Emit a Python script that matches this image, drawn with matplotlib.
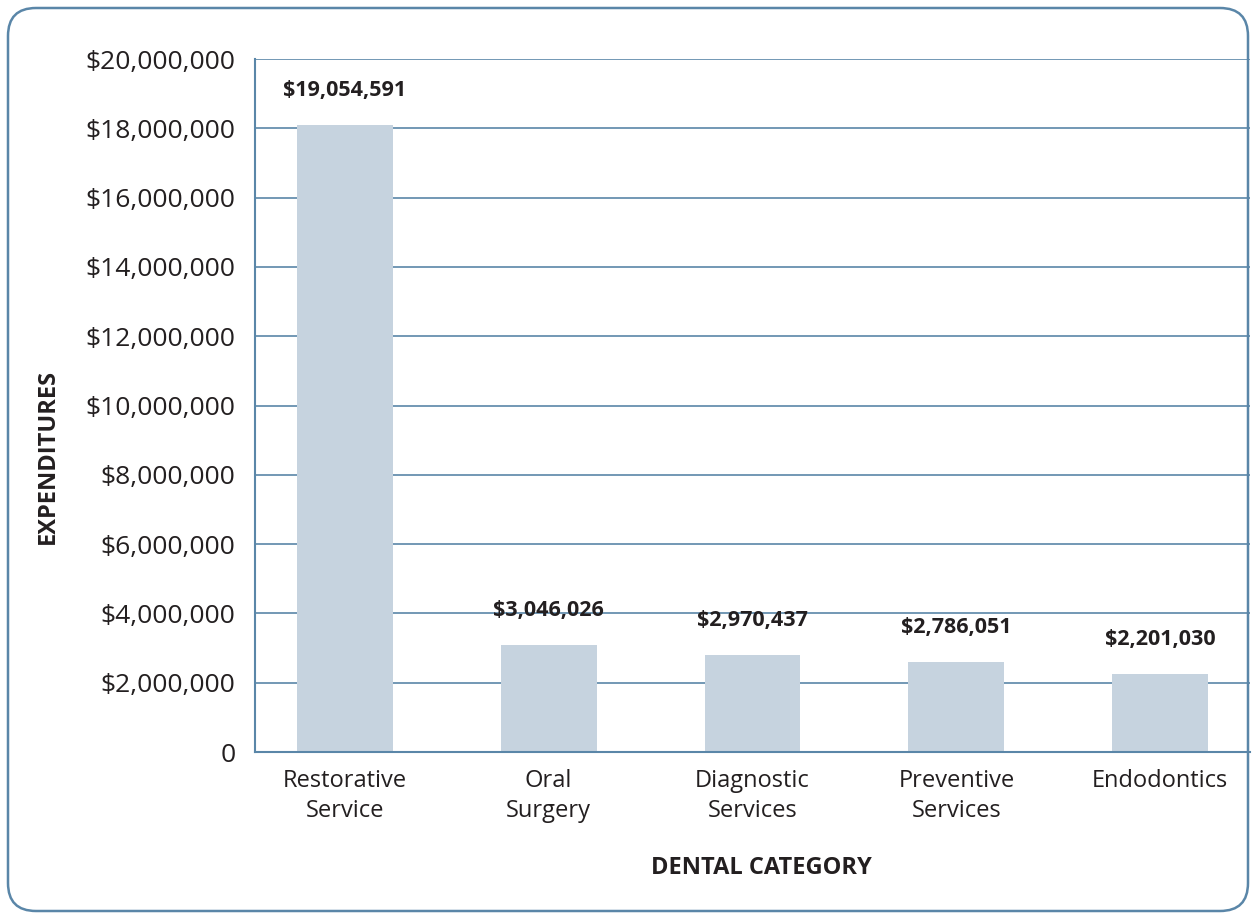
import matplotlib
matplotlib.use("Agg")
import matplotlib.pyplot as plt
from matplotlib.patches import FancyBboxPatch
from matplotlib.ticker import FuncFormatter

plt.rcParams['font.family'] = ['Open Sans', 'DejaVu Sans']

# Values (bar heights) and the printed labels
categories = ["Restorative\nService", "Oral\nSurgery", "Diagnostic\nServices",
              "Preventive\nServices", "Endodontics"]
bar_heights = [18100000, 3090000, 2800000, 2600000, 2250000]
value_labels = ["$19,054,591", "$3,046,026", "$2,970,437", "$2,786,051", "$2,201,030"]

line_col = "#5a86a8"
bar_col = "#c6d3df"
text_col = "#231f20"

fig = plt.figure(figsize=(12.53, 9.13), dpi=100)
ax = fig.add_axes([0.2035, 0.1763, 0.7941, 0.759])

x = range(len(categories))
ax.bar(x, bar_heights, width=0.47, color=bar_col, zorder=2)

# value labels above bars
for i, lab in enumerate(value_labels):
    ax.annotate(lab, (i, bar_heights[i]), xytext=(0, 25), textcoords="offset points",
                ha="center", va="center", fontsize=15.5, fontweight="bold", color=text_col)

ax.set_ylim(0, 20000000)
ax.set_xlim(-0.44, 4.44)
ax.set_yticks(range(0, 20000001, 2000000))
ax.yaxis.set_major_formatter(FuncFormatter(lambda v, p: "0" if v == 0 else "${:,.0f}".format(v)))
ax.set_xticks(list(x))
ax.set_xticklabels(categories, linespacing=1.35)
ax.tick_params(axis="both", length=0, colors=text_col)
ax.tick_params(axis="y", pad=14, labelsize=19)
ax.tick_params(axis="x", pad=12, labelsize=17)

ax.grid(axis="y", color=line_col, linewidth=1.2, zorder=1)
for s in ["top", "right"]:
    ax.spines[s].set_visible(False)
for s in ["left", "bottom"]:
    ax.spines[s].set_color(line_col)
    ax.spines[s].set_linewidth(1.5)

fig.text(0.0383, 0.5, "EXPENDITURES", rotation=90, ha="center", va="center",
         fontsize=17, fontweight="bold", color=text_col)
fig.text(0.608, 0.049, "DENTAL CATEGORY", ha="center", va="center",
         fontsize=17, fontweight="bold", color=text_col)

# rounded outer frame, in pixels
frame = FancyBboxPatch((8, 2), 1240, 903, boxstyle="round,pad=0,rounding_size=28",
                       transform=None, fill=False, edgecolor=line_col, linewidth=1.8)
fig.patches.append(frame)

fig.savefig("out.png", dpi=100)
